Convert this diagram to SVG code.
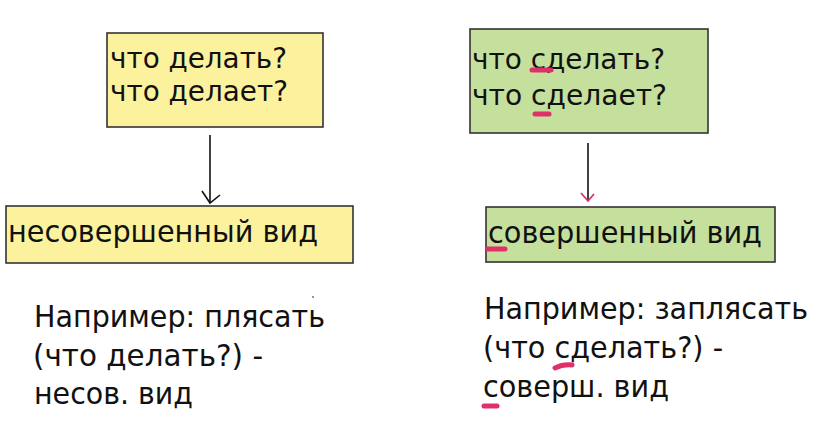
<svg xmlns="http://www.w3.org/2000/svg" width="822" height="443" viewBox="0 0 822 443">
<style>
.t{font-family:"DejaVu Sans Condensed","DejaVu Sans","Liberation Sans",sans-serif;font-stretch:condensed;fill:#111}
.b{font-size:29px}
.n{font-size:31px}
.box{stroke:#333;stroke-width:1.6}
.y{fill:#fcf29e}
.g{fill:#c5df9c}
.mk{stroke:#e0306a;stroke-width:5;stroke-linecap:round;fill:none}
.ln{stroke:#111;stroke-width:1.6;fill:none}
</style>
<rect width="822" height="443" fill="#fff"/>
<g id="connectors">
<line class="ln" x1="210" y1="135" x2="210" y2="203"/>
<polyline class="ln" points="202,191 210,203 220,195"/>
<line class="ln" x1="588" y1="143" x2="588" y2="200"/>
<polyline points="581,193 588,201 594,194" fill="none" stroke="#d6306a" stroke-width="1.8"/>
</g>
<g id="q-imperfective">
<rect class="box y" x="107" y="33" width="216" height="94"/>
<text class="t b" x="110" y="68" textLength="177" lengthAdjust="spacingAndGlyphs">что делать?</text>
<text class="t b" x="110" y="101" textLength="178" lengthAdjust="spacingAndGlyphs">что делает?</text>
</g>
<g id="imperfective">
<rect class="box y" x="6" y="206" width="347" height="57"/>
<text class="t n" x="8" y="242" textLength="310" lengthAdjust="spacingAndGlyphs">несовершенный вид</text>
</g>
<g id="q-perfective">
<rect class="box g" x="470" y="29" width="238" height="104"/>
<text class="t b" x="472" y="69" textLength="193" lengthAdjust="spacingAndGlyphs">что сделать?</text>
<text class="t b" x="472" y="105" textLength="195" lengthAdjust="spacingAndGlyphs">что сделает?</text>
<path class="mk" d="M532 70 L551 70"/>
<path class="mk" d="M535 114 L549 114"/>
</g>
<g id="perfective">
<rect class="box g" x="486" y="207" width="289" height="55"/>
<text class="t n" x="488" y="243" textLength="274" lengthAdjust="spacingAndGlyphs">совершенный вид</text>
<path class="mk" d="M488 249 L505 249"/>
</g>
<g id="example-left">
<text class="t n" x="34" y="327" textLength="291" lengthAdjust="spacingAndGlyphs">Например: плясать</text>
<text class="t n" x="33" y="366" textLength="230" lengthAdjust="spacingAndGlyphs">(что делать?) -</text>
<text class="t n" x="34" y="404" textLength="159" lengthAdjust="spacingAndGlyphs">несов. вид</text>
<circle cx="313" cy="297" r="1" fill="#777"/>
</g>
<g id="example-right">
<text class="t n" x="484" y="319" textLength="324" lengthAdjust="spacingAndGlyphs">Например: заплясать</text>
<text class="t n" x="483" y="358" textLength="240" lengthAdjust="spacingAndGlyphs">(что сделать?) -</text>
<text class="t n" x="483" y="397" textLength="186" lengthAdjust="spacingAndGlyphs">соверш. вид</text>
<path class="mk" d="M555 368 Q563 364 572 365"/>
<path class="mk" d="M484 406 L497 406"/>
</g>
</svg>
